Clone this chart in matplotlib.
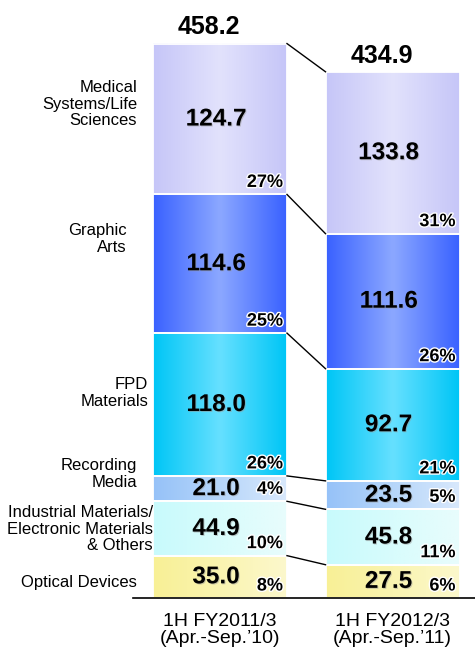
import numpy as np
import matplotlib
matplotlib.use('Agg')
import matplotlib.pyplot as plt
from matplotlib.patches import Rectangle
import matplotlib.patheffects as pe
from matplotlib.colors import to_rgb

# ---- data (bottom -> top) ----
segments = ['Optical Devices', 'Industrial Materials/\nElectronic Materials\n& Others',
            'Recording\nMedia', 'FPD\nMaterials', 'Graphic\nArts', 'Medical\nSystems/Life\nSciences']
periods = ['1H FY2011/3\n(Apr.-Sep.\u201910)', '1H FY2012/3\n(Apr.-Sep.\u201911)']
vals_10 = [35.0, 44.9, 21.0, 118.0, 114.6, 124.7]
vals_11 = [27.5, 45.8, 23.5, 92.7, 111.6, 133.8]
pct_10 = ['8%', '10%', '4%', '26%', '25%', '27%']
pct_11 = ['6%', '11%', '5%', '21%', '26%', '31%']
totals = [458.2, 434.9]

# ---- style ----
GRAD = [('#f8f096', '#faf4b0', '#fcf8cc'),   # optical
        ('#c8fafc', '#d8fcfc', '#e8fcfc'),   # industrial
        ('#96c2f8', '#b6d6fa', '#d8e8fc'),   # recording
        ('#00c6f6', '#66e0ff', '#00c6f6'),   # FPD
        ('#3a62ff', '#8ca8ff', '#3a62ff'),   # graphic
        ('#c6c6f8', '#e2e2fc', '#c6c6f8')]   # medical
# label anchor: (right x px, centre y px) in figure pixels
LBL = [(137, 582), (153, 529), (137, 474), (148, 393), (127, 239), (137, 104)]
NUMF = dict(family=['Liberation Sans', 'DejaVu Sans'], weight='bold')
TXTF = dict(family=['Liberation Sans', 'DejaVu Sans'])

W, H = 475, 648
fig = plt.figure(figsize=(W / 100, H / 100), dpi=100)
PX = 1.21            # px per value unit
PXX = 172.5          # px per x unit
ax = fig.add_axes([133 / W, 50 / H, 342 / W, 598 / H])
ax.set_axis_off()
xs = [0, 1]; bw = 134 / PXX
ymax = 598 / PX

def grad(cols, n=64):
    c = [np.array(to_rgb(k)) for k in cols]
    t = np.linspace(0, 1, n)[:, None]
    g = np.where(t < 0.5, c[0] + (c[1] - c[0]) * (t / 0.5), c[1] + (c[2] - c[1]) * ((t - 0.5) / 0.5))
    return g[None, :, :]

shadow = [pe.withSimplePatchShadow(offset=(0.7, -0.7), shadow_rgbFace='#999999', alpha=0.5)]
tops = []
for x, vals, pcts, tot in zip(xs, [vals_10, vals_11], [pct_10, pct_11], totals):
    cum = np.concatenate([[0], np.cumsum(vals)])
    tops.append(cum[1:])
    for i, v in enumerate(vals):
        b, t = cum[i], cum[i + 1]
        ax.imshow(grad(GRAD[i]), extent=[x - bw / 2, x + bw / 2, b, t], aspect='auto',
                  interpolation='bilinear', zorder=1)
        ax.add_patch(Rectangle((x - bw / 2, b), bw, v, fill=False, ec='white', lw=1.3, zorder=2))
        ax.text(x - 4 / PXX, (b + t) / 2, f'{v:.1f}', ha='center', va='center', fontsize=17.5,
                zorder=4, path_effects=shadow, **NUMF)
        py = min(b + 12 / PX, (b + t) / 2)
        ax.text(x + bw / 2 - 4 / PXX, py, pcts[i], ha='right', va='center', fontsize=13, zorder=4,
                path_effects=[pe.withStroke(linewidth=2, foreground='white')], **NUMF)
    ax.annotate(f'{tot:.1f}', (x, tot), xytext=(-8, 3), textcoords='offset points',
                ha='center', va='bottom', fontsize=18, **NUMF)

# connector lines
for yl, yr in zip(tops[0], tops[1]):
    ax.plot([xs[0] + bw / 2, xs[1] - bw / 2], [yl, yr], color='black', lw=1, zorder=3)

ax.axhline(0, color='black', lw=1.2, clip_on=False)
ax.set_xlim(-87 / PXX, 1 + 82.5 / PXX)
ax.set_ylim(0, ymax)

for (rx, cy), name in zip(LBL, segments):
    fig.text(rx / W, 1 - cy / H, name, ha='right', va='center', fontsize=12,
             linespacing=1.1, multialignment='right', **TXTF)

for x, p in zip(xs, periods):
    ax.annotate(p, (x, 0), xytext=(0, -11), textcoords='offset points', ha='center', va='top',
                fontsize=14, linespacing=1.0, annotation_clip=False, **TXTF)

fig.savefig('out.png', dpi=100)
